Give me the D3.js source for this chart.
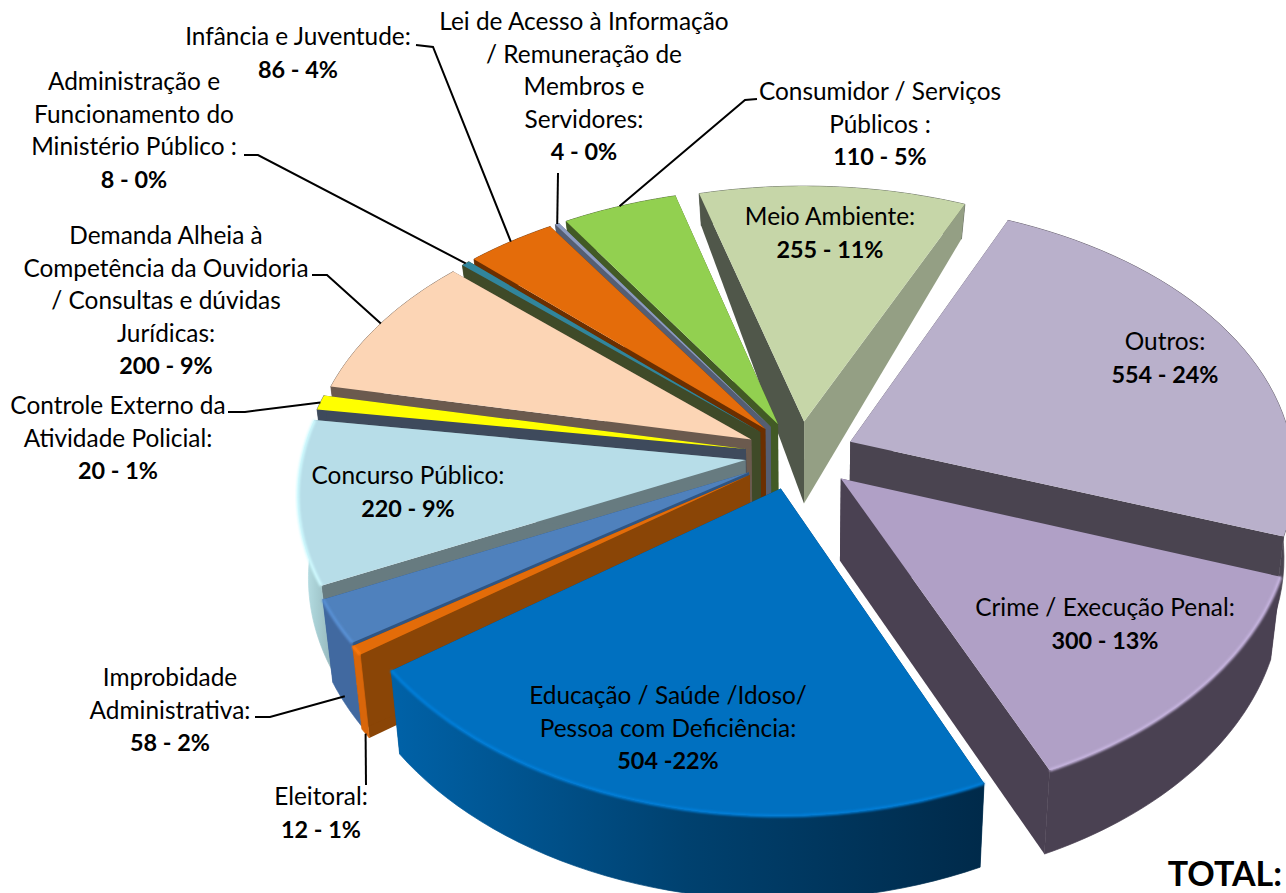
<!DOCTYPE html>
<html>
<head>
<meta charset="utf-8">
<style>
  html, body { margin: 0; background: #fff; }
  text { font-family: Lato, "Open Sans", sans-serif; fill: #000; }
</style>
<script src="https://cdn.jsdelivr.net/npm/d3@7"></script>
</head>
<body>
<svg id="chart" width="1286" height="893"></svg>
<script>
// chart values, clockwise from Outros
const categories = ['Outros', 'Crime / Execução Penal', 'Educação / Saúde /Idoso/ Pessoa com Deficiência',
  'Eleitoral', 'Improbidade Administrativa', 'Concurso Público', 'Controle Externo da Atividade Policial',
  'Demanda Alheia à Competência da Ouvidoria / Consultas e dúvidas Jurídicas',
  'Administração e Funcionamento do Ministério Público', 'Infância e Juventude',
  'Lei de Acesso à Informação / Remuneração de Membros e Servidores', 'Consumidor / Serviços Públicos', 'Meio Ambiente'];
const values = [554, 300, 504, 12, 58, 220, 20, 200, 8, 86, 4, 110, 255];
const valueLabels = ['554 - 24%', '300 - 13%', '504 -22%', '12 - 1%', '58 - 2%', '220 - 9%', '20 - 1%',
  '200 - 9%', '8 - 0%', '86 - 4%', '4 - 0%', '110 - 5%', '255 - 11%'];
const nameLines = [
  ['Outros:'], ['Crime / Execução Penal:'], ['Educação / Saúde /Idoso/', 'Pessoa com Deficiência:'],
  ['Eleitoral:'], ['Improbidade', 'Administrativa:'], ['Concurso Público:'],
  ['Controle Externo da', 'Atividade Policial:'],
  ['Demanda Alheia à', 'Competência da Ouvidoria', '/ Consultas e dúvidas', 'Jurídicas:'],
  ['Administração e', 'Funcionamento do', 'Ministério Público :'], ['Infância e Juventude:'],
  ['Lei de Acesso à Informação', '/ Remuneração de', 'Membros e', 'Servidores:'],
  ['Consumidor / Serviços', 'Públicos :'], ['Meio Ambiente:']
];

// styles per slice: top face, radial wall, outer wall
const topColors = ['#b9b0cb', '#b0a0c6', '#0070c0', '#e36c09', '#4f81bd', '#b7dde8', '#ffff00', '#fcd5b5', '#31859c', '#e46c0a', '#8c9bc0', '#92d050', '#c6d6a8'];
const wallColors = ['#4a4450', '#4a4152', '#00406e', '#8a4506', '#2f5583', '#677b80', '#3e4a5c', '#6b5a4e', '#3f4a28', '#6b2f00', '#555e72', '#425a25', '#50574a'];
const rimColors = ['#4a4450', '#4a4152', 'url(#eduWall)', '#d9660a', '#4169a0', 'url(#concursoWall)', '#3e4a5c', '#6b5a4e', '#3f4a28', '#6b2f00', '#555e72', '#425a25', '#50574a'];

// label layout: centre x, y of first line, then leader elbow
const labelX = [1165, 1105, 668, 321, 170, 408, 118, 166, 134, 298, 584, 880, 830];
const labelY = [342, 608, 696, 797, 678, 476, 406, 236, 82, 37, 22, 92, 217];
const leaders = [null, null, null, {from: [366, 785], bottom: 1}, {from: [255, 717], elbow: [270, 717], bottom: 0.9}, null,
  {from: [228, 412], elbow: [245, 412]}, {from: [312, 275], elbow: [327, 275]}, {from: [244, 155], elbow: [258, 155]},
  {from: [416, 45], elbow: [433, 47]}, {from: [558, 173]}, {from: [757, 99], elbow: [745, 100]}, null];

const width = 1286, height = 893;
const cx = 800, cy = 455;        // pie centre on screen
const radius = 443, pull = 55;   // radius and explosion in plane units
const tilt = 0.62, cameraX = 3900, cameraY = 3366;
const converge = 0.021;
const startAngle = 24 * Math.PI / 180;
const nudgeX = [0, 0, -5, -5, -3, 0, 0, 0, 0, 0, 0, 0, 0]; // small sideways fixes per slice

const depth = d3.scaleLinear().domain([-440, -60, 480]).range([37, 82, 84]);

const svg = d3.select('#chart');
const defs = svg.append('defs');

function gradient(id, x1, x2, stops) {
  const g = defs.append('linearGradient').attr('id', id)
    .attr('gradientUnits', 'userSpaceOnUse')
    .attr('x1', x1).attr('x2', x2).attr('y1', 0).attr('y2', 0);
  stops.forEach(s => g.append('stop').attr('offset', s[0]).attr('stop-color', s[1]));
}
gradient('eduWall', 390, 983, [[0, '#0062a8'], [0.5, '#00416f'], [1, '#002a4a']]);
gradient('concursoWall', 297, 335, [[0, '#c4ecf2'], [0.5, '#a8cfd4'], [1, '#94b4b8']]);

defs.append('filter').attr('id', 'soft').append('feGaussianBlur').attr('stdDeviation', 1);

const arcs = d3.pie().sort(null).startAngle(startAngle).endAngle(startAngle + 2 * Math.PI)(values);

// plane coordinates -> screen, optionally on the underside of the pie
function project(d, angle, r, under) {
  const mid = (d.startAngle + d.endAngle) / 2;
  const X = pull * Math.sin(mid) + r * Math.sin(angle);
  const Y = -pull * Math.cos(mid) - r * Math.cos(angle);
  let x = X * cameraX / (cameraX - Y), y = tilt * Y * cameraY / (cameraY - Y);
  if (under) { x *= 1 - converge * under; y += depth(Y) * under; }
  return [cx + x + nudgeX[d.index], cy + y];
}

const line = d3.line();
const rim = (d, under) => d3.range(0, 41).map(i =>
  project(d, d.startAngle + (d.endAngle - d.startAngle) * i / 40, radius, under));

const midCos = d => Math.cos((d.startAngle + d.endAngle) / 2);
const order = d3.range(values.length).sort((a, b) => midCos(arcs[b]) - midCos(arcs[a]));

const slices = svg.append('g').selectAll('g').data(order).join('g');

slices.each(function(i) {
  const d = arcs[i], g = d3.select(this);
  const apexTop = project(d, d.startAngle, 0, 0), apexBottom = project(d, d.startAngle, 0, 1);
  const outer = () => g.append('path')
    .attr('d', line(rim(d, 0).concat(rim(d, 1).reverse())) + 'Z')
    .attr('fill', rimColors[i])
    .attr('stroke', rimColors[i])
    .attr('stroke-width', 0.7);
  const back = midCos(d) > 0;
  if (back) outer();
  [d.startAngle, d.endAngle].forEach((a, j) => {
    const fill = i === 12 && j === 1 ? '#949f84' : wallColors[i];
    g.append('path')
      .attr('d', line([apexTop, project(d, a, radius, 0), project(d, a, radius, 1), apexBottom]) + 'Z')
      .attr('fill', fill);
  });
  if (!back) outer();
  g.append('path')
    .attr('d', line([apexTop].concat(rim(d, 0))) + 'Z')
    .attr('fill', topColors[i]);
  // soft bevel where the top meets the outer wall
  if (!back) {
    g.append('path')
      .attr('d', line(rim(d, 0)))
      .attr('fill', 'none')
      .attr('stroke', d3.color(topColors[i]).brighter(0.35))
      .attr('stroke-width', 3)
      .attr('filter', 'url(#soft)');
  }
});

// leader lines
const leaderG = svg.append('g').attr('fill', 'none').attr('stroke', '#000').attr('stroke-width', 2);
leaders.forEach((l, i) => {
  if (!l) return;
  const d = arcs[i];
  const end = project(d, (d.startAngle + d.endAngle) / 2, radius, l.bottom || 0);
  const pts = l.elbow ? [l.from, l.elbow, end] : [l.from, end];
  leaderG.append('path').attr('d', line(pts));
});

// labels
const fontSize = 24.4, boldSize = 23.4, lineStep = 32.5;
categories.forEach((c, i) => {
  const t = svg.append('text').attr('text-anchor', 'middle').attr('font-size', fontSize);
  const lines = nameLines[i];
  lines.forEach((s, j) => {
    t.append('tspan').attr('x', labelX[i]).attr('y', labelY[i] + j * lineStep + 8).text(s);
  });
  t.append('tspan').attr('x', labelX[i]).attr('y', labelY[i] + lines.length * lineStep + 8)
    .attr('font-size', boldSize).attr('font-weight', 700).text(valueLabels[i]);
});

svg.append('text').attr('x', 1282).attr('y', 886).attr('text-anchor', 'end')
  .attr('font-size', 34).attr('font-weight', 700).text('TOTAL:');
</script>
</body>
</html>
